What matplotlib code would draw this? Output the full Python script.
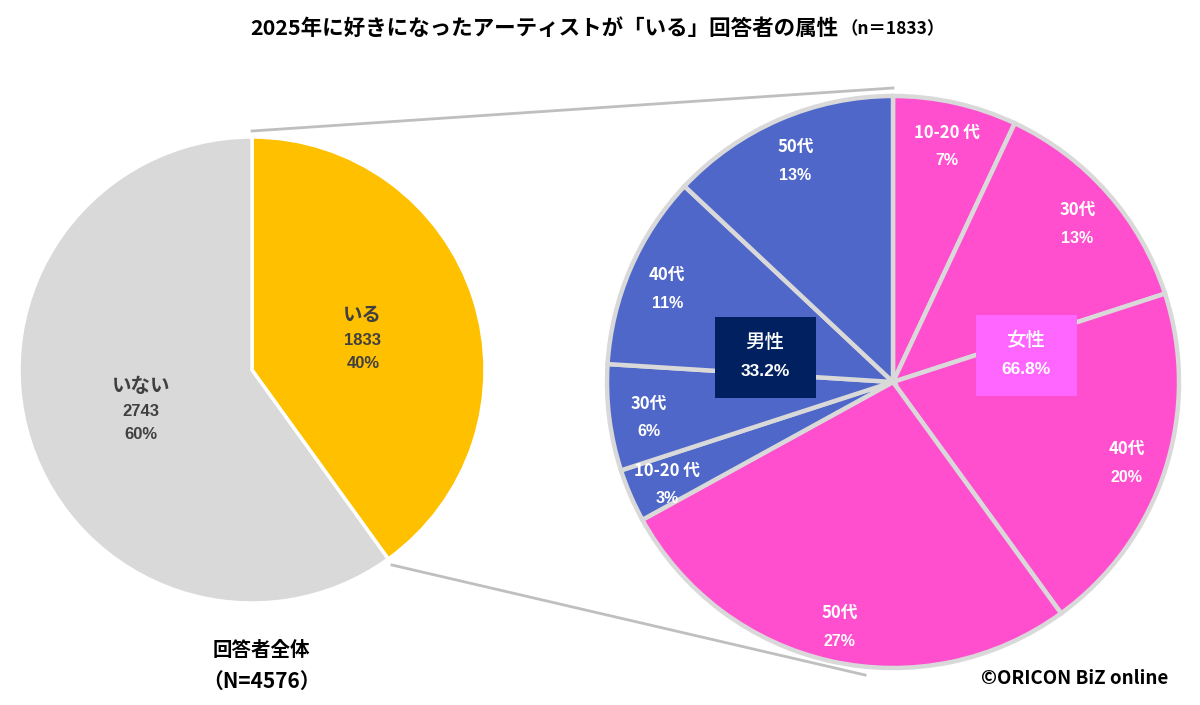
import numpy as np
import matplotlib.pyplot as plt
from matplotlib.patches import Rectangle

plt.rcParams['font.family'] = ['Noto Sans CJK JP', 'DejaVu Sans']

# data
title = '2025年に好きになったアーティストが「いる」回答者の属性'
sub_n = '（n＝1833）'
total_labels = ['いる', 'いない']
total_counts = [1833, 2743]
total_pcts = ['40%', '60%']

age_labels = ['10-20 代', '30代', '40代', '50代', '10-20 代', '30代', '40代', '50代']
age_pcts = [7, 13, 20, 27, 3, 6, 11, 13]
age_sex = ['F', 'F', 'F', 'F', 'M', 'M', 'M', 'M']
sex_labels = ['男性', '女性']
sex_pcts = [33.2, 66.8]

GRAY = '#D9D9D9'
YELLOW = '#FFC000'
PINK = '#FF4FCF'
BLUE = '#4F67C8'

fig = plt.figure(figsize=(12, 7.05), dpi=100)
ax = fig.add_axes([0, 0, 1, 1])

# left pie: all respondents
lc, lr = (252, 335), 233
wl, _ = ax.pie(total_counts, colors=[YELLOW, GRAY], startangle=90,
               counterclock=False, center=lc, radius=lr,
               wedgeprops=dict(edgecolor='white', linewidth=2.5))
for w, lab, n, p in zip(wl, total_labels, total_counts, total_pcts):
    a = np.deg2rad((w.theta1 + w.theta2) / 2)
    x = lc[0] + 0.5 * lr * np.cos(a)
    y = lc[1] + 0.5 * lr * np.sin(a)
    ax.text(x, y + 19, lab, ha='center', va='center', fontsize=14,
            fontweight='bold', color='#404040')
    ax.text(x, y - 6, str(n), ha='center', va='center', fontsize=12,
            fontweight='bold', color='#404040', family='Liberation Sans')
    ax.text(x, y - 29, p, ha='center', va='center', fontsize=12,
            fontweight='bold', color='#404040', family='Liberation Sans')

# right pie: breakdown of いる
rc, rr = (893, 323), 286
cols = [PINK if s == 'F' else BLUE for s in age_sex]
wr, _ = ax.pie(age_pcts, colors=cols, startangle=90, counterclock=False,
               center=rc, radius=rr,
               wedgeprops=dict(edgecolor=GRAY, linewidth=3.2))
for w, lab, p in zip(wr, age_labels, age_pcts):
    a = np.deg2rad((w.theta1 + w.theta2) / 2)
    x = rc[0] + 0.86 * rr * np.cos(a)
    y = rc[1] + 0.86 * rr * np.sin(a)
    ax.text(x, y + 9, lab, ha='center', va='center', fontsize=12,
            fontweight='bold', color='white')
    ax.text(x, y - 19, f'{p}%', ha='center', va='center', fontsize=11.5,
            fontweight='bold', color='white', family='Liberation Sans')

# sex boxes
box_pos = [(765, 348), (1026, 350)]
box_cols = ['#002060', '#FF66FF']
for (bx, by), col, lab, p in zip(box_pos, box_cols, sex_labels, sex_pcts):
    ax.add_patch(Rectangle((bx - 50, by - 41), 101, 81, facecolor=col,
                           edgecolor='none', zorder=3))
    ax.text(bx, by + 15, lab, ha='center', va='center', fontsize=14,
            fontweight='medium', color='white', zorder=4)
    ax.text(bx, by - 14, f'{p}%', ha='center', va='center', fontsize=12.5,
            fontweight='bold', color='white', zorder=4,
            family='Liberation Sans')

# connector lines
ax.plot([252, 893], [705 - 131, 705 - 88], color='#BFBFBF', lw=2)
ax.plot([392, 865], [705 - 565, 705 - 675], color='#BFBFBF', lw=2)

# titles and notes
ax.text(838, 705 - 28, title, ha='right', va='center', fontsize=15.5,
        fontweight='bold', color='black')
ax.text(840, 705 - 29, sub_n, ha='left', va='center', fontsize=12.5,
        fontweight='bold', color='black')
ax.text(261, 705 - 650, '回答者全体', ha='center', va='center', fontsize=14,
        fontweight='bold')
ax.text(262, 705 - 681, '（N=4576）', ha='center', va='center', fontsize=15,
        fontweight='bold')
ax.text(1075, 705 - 679, '©ORICON BiZ online', ha='center', va='center',
        fontsize=13.5, fontweight='bold')

ax.set_xlim(0, 1200)
ax.set_ylim(0, 705)
ax.set_aspect('equal')
ax.axis('off')

fig.savefig('out.png', dpi=100, facecolor='white')
